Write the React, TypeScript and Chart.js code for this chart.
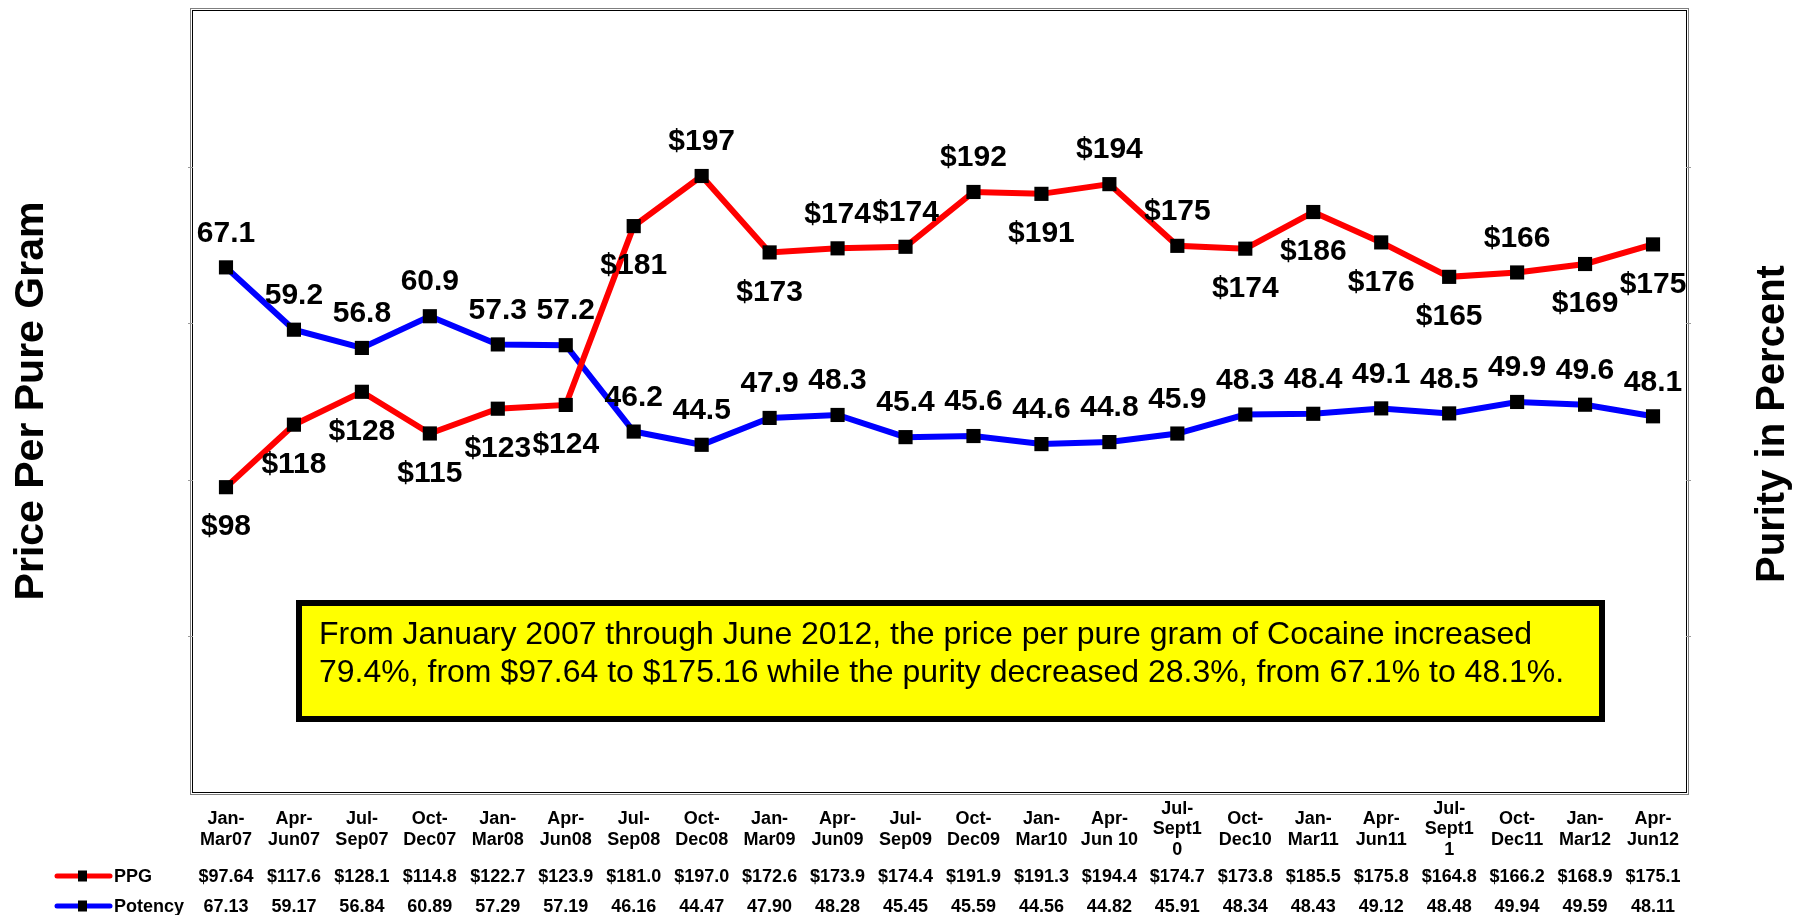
import { useEffect, useRef } from "react";
import { Chart, registerables } from "chart.js";

Chart.register(...registerables);

// ---- data ----
const categories: string[][] = [
  ["Jan-", "Mar07"], ["Apr-", "Jun07"], ["Jul-", "Sep07"], ["Oct-", "Dec07"],
  ["Jan-", "Mar08"], ["Apr-", "Jun08"], ["Jul-", "Sep08"], ["Oct-", "Dec08"],
  ["Jan-", "Mar09"], ["Apr-", "Jun09"], ["Jul-", "Sep09"], ["Oct-", "Dec09"],
  ["Jan-", "Mar10"], ["Apr-", "Jun 10"], ["Jul-", "Sept1", "0"], ["Oct-", "Dec10"],
  ["Jan-", "Mar11"], ["Apr-", "Jun11"], ["Jul-", "Sept1", "1"], ["Oct-", "Dec11"],
  ["Jan-", "Mar12"], ["Apr-", "Jun12"],
];

const ppg: number[] = [
  97.64, 117.6, 128.1, 114.8, 122.7, 123.9, 181.0, 197.0, 172.6, 173.9, 174.4,
  191.9, 191.3, 194.4, 174.7, 173.8, 185.5, 175.8, 164.8, 166.2, 168.9, 175.16,
];

const potency: number[] = [
  67.13, 59.17, 56.84, 60.89, 57.29, 57.19, 46.16, 44.47, 47.9, 48.28, 45.449,
  45.59, 44.56, 44.82, 45.91, 48.34, 48.43, 49.12, 48.48, 49.94, 49.59, 48.11,
];

const seriesNames = ["PPG", "Potency"];
const leftTitle = "Price Per Pure Gram";
const rightTitle = "Purity in Percent";
const noteLines = [
  "From January 2007 through June 2012, the price per pure gram of Cocaine increased",
  "79.4%, from $97.64 to $175.16 while the purity decreased 28.3%, from 67.1% to 48.1%.",
];

// label placement for the PPG series (true = above the point)
const ppgAbove = [
  false, false, false, false, false, false, false, true, false, true, true,
  true, false, true, true, false, false, false, false, true, false, false,
];

const FONT = '"Liberation Sans", Arial, Helvetica, sans-serif';

const fmtPpgTable = (v: number) => ("$" + v.toFixed(2)).slice(0, 6);

const overlayPlugin = {
  id: "overlay",
  beforeDatasetsDraw(chart: any) {
    const { ctx, chartArea: a } = chart;
    const w = a.right - a.left;
    const h = a.bottom - a.top;
    ctx.save();
    ctx.lineWidth = 1;
    ctx.strokeStyle = "#7f7f7f";
    ctx.strokeRect(a.left - 1.5, a.top - 1.5, w + 3, h + 3);
    ctx.strokeStyle = "#000";
    ctx.strokeRect(a.left + 0.5, a.top + 0.5, w - 1, h - 1);
    // small tick marks on the borders
    const ys = chart.scales.y;
    ctx.strokeStyle = "#9a9a9a";
    for (let v = 50; v < 250; v += 50) {
      const py = Math.round(ys.getPixelForValue(v)) + 0.5;
      ctx.beginPath();
      ctx.moveTo(a.left - 4, py);
      ctx.lineTo(a.left + 1, py);
      ctx.moveTo(a.right - 1, py);
      ctx.lineTo(a.right + 4, py);
      ctx.stroke();
    }
    ctx.restore();
  },
  afterDatasetsDraw(chart: any) {
    const { ctx } = chart;
    const xs = chart.scales.x;
    ctx.save();
    ctx.fillStyle = "#000";
    ctx.textAlign = "center";
    ctx.textBaseline = "middle";

    // data labels
    ctx.font = `bold 30px ${FONT}`;
    const m0 = chart.getDatasetMeta(0);
    m0.data.forEach((pt: any, i: number) => {
      const off = ppgAbove[i] ? -34 : 40;
      ctx.fillText("$" + Math.round(ppg[i]), pt.x, pt.y + off);
    });
    const m1 = chart.getDatasetMeta(1);
    m1.data.forEach((pt: any, i: number) => {
      ctx.fillText(potency[i].toFixed(1), pt.x, pt.y - 34);
    });

    // category labels
    ctx.font = `bold 18px ${FONT}`;
    categories.forEach((lines, i) => {
      const x = xs.getPixelForValue(i);
      const n = lines.length;
      lines.forEach((ln, j) => {
        ctx.fillText(ln, x, 829.5 + (j - (n - 1) / 2) * 20.5);
      });
      ctx.fillText(fmtPpgTable(ppg[i]), x, 877.5);
      ctx.fillText(potency[i].toFixed(2), x, 907.5);
    });

    // legend keys of the data table
    const keys = [
      { color: "#FF0000", y: 876, label: seriesNames[0] },
      { color: "#0000FF", y: 906, label: seriesNames[1] },
    ];
    keys.forEach((k) => {
      ctx.strokeStyle = k.color;
      ctx.lineWidth = 5;
      ctx.lineCap = "round";
      ctx.beginPath();
      ctx.moveTo(57, k.y);
      ctx.lineTo(110, k.y);
      ctx.stroke();
      ctx.fillStyle = "#000";
      ctx.fillRect(78, k.y - 5.5, 9, 11);
      ctx.textAlign = "left";
      ctx.fillText(k.label, 114, k.y + 1);
      ctx.textAlign = "center";
    });

    // axis titles
    ctx.font = `bold 41px ${FONT}`;
    ctx.textBaseline = "alphabetic";
    ctx.save();
    ctx.translate(43, 401);
    ctx.rotate(-Math.PI / 2);
    ctx.fillText(leftTitle, 0, 0);
    ctx.restore();
    ctx.font = `bold 40px ${FONT}`;
    ctx.save();
    ctx.translate(1783.5, 424);
    ctx.rotate(-Math.PI / 2);
    ctx.fillText(rightTitle, 0, 0);
    ctx.restore();

    // annotation box
    ctx.fillStyle = "#FFFF00";
    ctx.fillRect(296, 600, 1309, 122);
    ctx.strokeStyle = "#000";
    ctx.lineWidth = 6;
    ctx.lineCap = "butt";
    ctx.strokeRect(299, 603, 1303, 116);
    ctx.fillStyle = "#000";
    ctx.font = `32px ${FONT}`;
    ctx.textAlign = "left";
    ctx.fillText(noteLines[0], 319, 644);
    ctx.fillText(noteLines[1], 319, 682);

    ctx.restore();
  },
};

export default function App() {
  const ref = useRef<HTMLCanvasElement>(null);

  useEffect(() => {
    if (!ref.current) return;
    const chart = new Chart(ref.current, {
      type: "line",
      data: {
        labels: categories,
        datasets: [
          {
            label: seriesNames[0],
            data: ppg,
            yAxisID: "y",
            borderColor: "#FF0000",
            backgroundColor: "#FF0000",
            borderWidth: 6,
            pointStyle: "rect",
            pointRadius: 10,
            pointBackgroundColor: "#000",
            pointBorderColor: "#000",
            pointBorderWidth: 0,
            tension: 0,
            fill: false,
          },
          {
            label: seriesNames[1],
            data: potency,
            yAxisID: "y1",
            borderColor: "#0000FF",
            backgroundColor: "#0000FF",
            borderWidth: 6,
            pointStyle: "rect",
            pointRadius: 10,
            pointBackgroundColor: "#000",
            pointBorderColor: "#000",
            pointBorderWidth: 0,
            tension: 0,
            fill: false,
          },
        ],
      },
      options: {
        responsive: false,
        animation: false,
        events: [],
        devicePixelRatio: 1,
        layout: { padding: { left: 192, right: 121, top: 9, bottom: 122 } },
        plugins: {
          legend: { display: false },
          tooltip: { enabled: false },
        },
        scales: {
          x: { type: "category", display: false, offset: true },
          y: { display: false, min: 0, max: 250, position: "left" },
          y1: { display: false, min: 0, max: 100, position: "right" },
        },
      },
      plugins: [overlayPlugin],
    });
    return () => chart.destroy();
  }, []);

  return (
    <div
      style={{
        position: "absolute",
        left: 0,
        top: 0,
        width: 1808,
        height: 915,
        background: "#fff",
        overflow: "hidden",
      }}
    >
      <canvas ref={ref} width={1808} height={915} style={{ display: "block" }} />
    </div>
  );
}
